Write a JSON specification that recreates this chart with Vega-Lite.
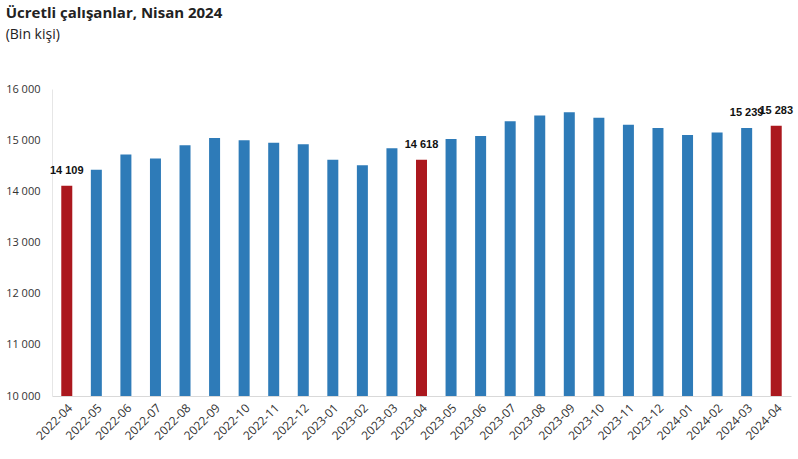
{
  "$schema": "https://vega.github.io/schema/vega-lite/v6.json",
  "width": 739,
  "height": 307,
  "padding": {"left": 5, "right": 6, "top": 6, "bottom": 4},
  "background": "white",
  "title": {
    "text": "Ücretli çalışanlar, Nisan 2024",
    "subtitle": "(Bin kişi)",
    "anchor": "start",
    "frame": "bounds",
    "offset": 41,
    "font": "Open Sans",
    "fontSize": 15,
    "fontWeight": "bold",
    "color": "#222222",
    "subtitleFont": "Open Sans",
    "subtitleFontSize": 14,
    "subtitleColor": "#222222",
    "subtitlePadding": 7
  },
  "config": {
    "view": {"stroke": null},
    "font": "Open Sans",
    "locale": {"number": {"decimal": ",", "thousands": " ", "grouping": [3], "currency": ["", " TL"]}}
  },
  "data": {
    "values": [
      {"ay": "2022-04", "deger": 14109, "nisan": "evet"},
      {"ay": "2022-05", "deger": 14420, "nisan": "hayir"},
      {"ay": "2022-06", "deger": 14720, "nisan": "hayir"},
      {"ay": "2022-07", "deger": 14640, "nisan": "hayir"},
      {"ay": "2022-08", "deger": 14900, "nisan": "hayir"},
      {"ay": "2022-09", "deger": 15040, "nisan": "hayir"},
      {"ay": "2022-10", "deger": 15000, "nisan": "hayir"},
      {"ay": "2022-11", "deger": 14950, "nisan": "hayir"},
      {"ay": "2022-12", "deger": 14920, "nisan": "hayir"},
      {"ay": "2023-01", "deger": 14615, "nisan": "hayir"},
      {"ay": "2023-02", "deger": 14510, "nisan": "hayir"},
      {"ay": "2023-03", "deger": 14840, "nisan": "hayir"},
      {"ay": "2023-04", "deger": 14618, "nisan": "evet"},
      {"ay": "2023-05", "deger": 15025, "nisan": "hayir"},
      {"ay": "2023-06", "deger": 15080, "nisan": "hayir"},
      {"ay": "2023-07", "deger": 15370, "nisan": "hayir"},
      {"ay": "2023-08", "deger": 15480, "nisan": "hayir"},
      {"ay": "2023-09", "deger": 15547, "nisan": "hayir"},
      {"ay": "2023-10", "deger": 15440, "nisan": "hayir"},
      {"ay": "2023-11", "deger": 15300, "nisan": "hayir"},
      {"ay": "2023-12", "deger": 15240, "nisan": "hayir"},
      {"ay": "2024-01", "deger": 15100, "nisan": "hayir"},
      {"ay": "2024-02", "deger": 15150, "nisan": "hayir"},
      {"ay": "2024-03", "deger": 15239, "nisan": "hayir"},
      {"ay": "2024-04", "deger": 15283, "nisan": "evet"}
    ]
  },
  "encoding": {
    "x": {
      "field": "ay",
      "type": "ordinal",
      "sort": null,
      "scale": {"paddingInner": 0, "paddingOuter": 0},
      "axis": {
        "title": null,
        "labelAngle": -45,
        "labelFontSize": 12,
        "labelColor": "#333333",
        "labelFont": "Open Sans",
        "ticks": false,
        "domainColor": "#d9d9d9",
        "labelPadding": 6
      }
    },
    "y": {
      "field": "deger",
      "type": "quantitative",
      "scale": {"domain": [10000, 16000], "nice": false, "zero": false},
      "axis": {
        "title": null,
        "values": [10000, 11000, 12000, 13000, 14000, 15000, 16000],
        "labelExpr": "replace(format(datum.value, ',d'), ',', ' ')",
        "labelFontSize": 11,
        "labelColor": "#333333",
        "labelFont": "Open Sans",
        "ticks": false,
        "grid": false,
        "domainColor": "#e6e6e6",
        "labelPadding": 12
      }
    }
  },
  "layer": [
    {
      "mark": {"type": "bar", "width": 11, "clip": true},
      "encoding": {
        "color": {
          "field": "nisan",
          "type": "nominal",
          "scale": {"domain": ["evet", "hayir"], "range": ["#ab181e", "#2e7bb8"]},
          "legend": null
        }
      }
    },
    {
      "transform": [
        {"filter": "datum.nisan == 'evet' || datum.ay == '2024-03'"}
      ],
      "mark": {
        "type": "text",
        "dy": -15,
        "fontSize": 11,
        "fontWeight": "bold",
        "font": "Liberation Sans",
        "color": "#111111"
      },
      "encoding": {
        "text": {"field": "deger", "type": "quantitative", "format": ",d"}
      }
    }
  ]
}
